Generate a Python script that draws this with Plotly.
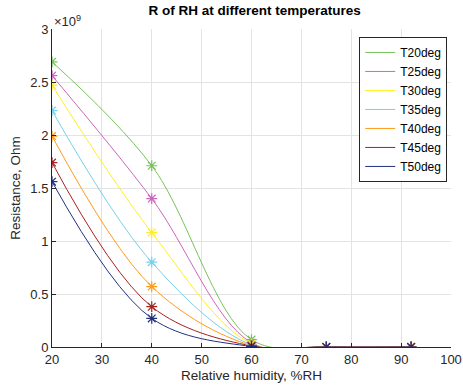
import plotly.graph_objects as go

rh = [20, 40, 60, 75, 92]
names = ["T20deg", "T25deg", "T30deg", "T35deg", "T40deg", "T45deg", "T50deg"]
# Resistance in units of 1e9 Ohm
r_t20 = [2.69, 1.71, 0.07, 0.0, 0.0]
r_t25 = [2.56, 1.40, 0.04, 0.0, 0.0]
r_t30 = [2.47, 1.08, 0.03, 0.0, 0.0]
r_t35 = [2.23, 0.80, 0.02, 0.0, 0.0]
r_t40 = [1.99, 0.57, 0.015, 0.0, 0.0]
r_t45 = [1.74, 0.38, 0.01, 0.0, 0.0]
r_t50 = [1.56, 0.27, 0.005, 0.0, 0.0]
series = [r_t20, r_t25, r_t30, r_t35, r_t40, r_t45, r_t50]
colors = ["#77c35a", "#cc66bb", "#ffee22", "#77d0ea", "#ff9a1a", "#a52020", "#22307f"]

fig = go.Figure()
for n, s, c in zip(names, series, colors):
    fig.add_trace(go.Scatter(x=rh, y=s, mode="lines", name=n,
                             line=dict(color=c, width=1, shape="spline", smoothing=1.0)))
for n, s, c in zip(names, series, colors):
    fig.add_trace(go.Scatter(x=rh, y=s, mode="markers", showlegend=False,
                             marker=dict(symbol="asterisk-open", size=9, color=c,
                                         line=dict(color=c, width=1.2))))

font = "Liberation Sans, Arial, sans-serif"
fig.update_layout(
    width=463, height=385,
    margin=dict(l=52, r=12, t=29, b=38),
    paper_bgcolor="white", plot_bgcolor="white",
    font=dict(family=font, size=13, color="#262626"),
    title=dict(text="<b>R of RH at different temperatures</b>", x=0.55, xanchor="center",
               y=0.985, yanchor="top", font=dict(size=13.5, color="#000000")),
    showlegend=True,
    legend=dict(x=0.77, y=0.975, xanchor="left", yanchor="top",
                bgcolor="white", bordercolor="#262626", borderwidth=1,
                font=dict(size=12, color="#000000"), itemwidth=30,
                tracegroupgap=0),
    xaxis=dict(range=[20, 100], tickvals=[20, 30, 40, 50, 60, 70, 80, 90, 100],
               showgrid=True, gridcolor="#e3e3e3", gridwidth=1,
               showline=True, linecolor="#262626", linewidth=1,
               ticks="inside", ticklen=4, tickcolor="#262626",
               zeroline=False, ticklabeloverflow="allow", automargin=False,
               tickfont=dict(size=13),
               title=dict(text="Relative humidity, %RH", standoff=4, font=dict(size=13.5))),
    yaxis=dict(range=[0, 3], tickvals=[0, 0.5, 1, 1.5, 2, 2.5, 3],
               ticktext=["0", "0.5", "1", "1.5", "2", "2.5", "3"],
               showgrid=True, gridcolor="#e3e3e3", gridwidth=1,
               showline=True, linecolor="#262626", linewidth=1,
               ticks="inside", ticklen=4, tickcolor="#262626",
               zeroline=False, tickfont=dict(size=13), automargin=False,
               title=dict(text="Resistance, Ohm", standoff=6, font=dict(size=13.5))),
)
fig.add_annotation(text="×10<sup>9</sup>", xref="paper", yref="paper", x=0.0, y=1.0,
                   xanchor="left", yanchor="bottom", showarrow=False,
                   font=dict(size=13, color="#262626"), xshift=0, yshift=-2)
fig.write_html("out.html")
